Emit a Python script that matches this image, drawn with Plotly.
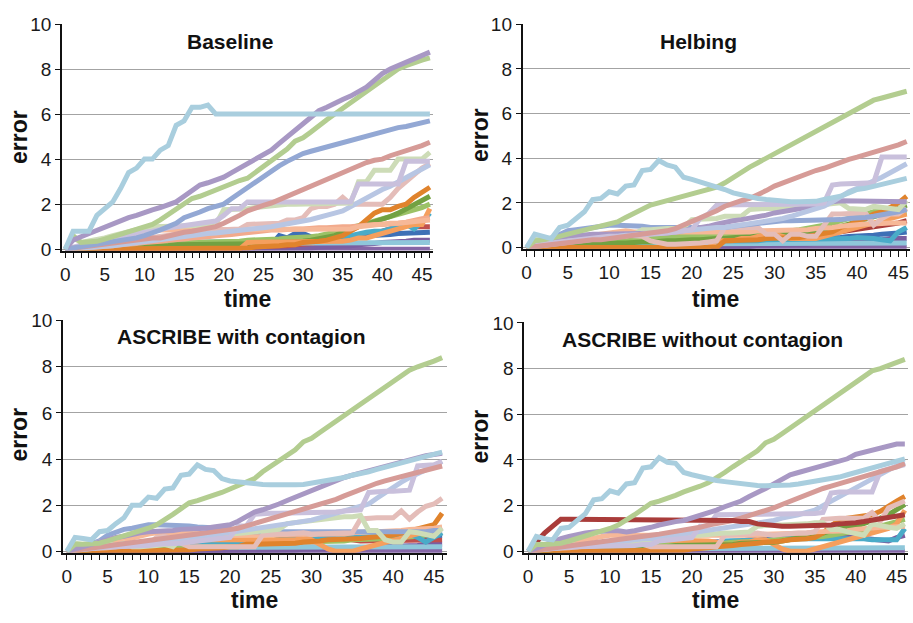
import plotly.graph_objects as go

W, H = 913, 623
t = list(range(47))

# ---------------- Baseline ----------------
b_ltblue = [0, 0.8, 0.8, 0.8, 1.5, 1.8, 2.1, 2.7, 3.4, 3.6,
            4.0, 4.0, 4.4, 4.6, 5.5, 5.7, 6.3, 6.3, 6.4, 6.0,
            6.0, 6.0, 6.0, 6.0, 6.0, 6.0, 6.0, 6.0, 6.0, 6.0,
            6.0, 6.0, 6.0, 6.0, 6.0, 6.0, 6.0, 6.0, 6.0, 6.0,
            6.0, 6.0, 6.0, 6.0, 6.0, 6.0, 6.0]
b_lav = [0, 0.4, 0.55, 0.7, 0.85, 1.0, 1.15, 1.25, 1.4, 1.5,
         1.65, 1.75, 1.85, 1.95, 2.1, 2.35, 2.6, 2.85, 2.95, 3.05,
         3.2, 3.4, 3.6, 3.8, 4.0, 4.15, 4.4, 4.7, 5.0, 5.3,
         5.6, 5.9, 6.15, 6.3, 6.5, 6.65, 6.8, 7.0, 7.2, 7.5,
         7.8, 8.0, 8.15, 8.3, 8.5, 8.65, 8.75]
b_green = [0, 0.6, 0.3, 0.3, 0.35, 0.45, 0.55, 0.65, 0.8, 0.9,
           1.0, 1.1, 1.3, 1.55, 1.8, 2.05, 2.25, 2.35, 2.5, 2.65,
           2.75, 2.9, 3.05, 3.15, 3.4, 3.7, 3.95, 4.2, 4.45, 4.8,
           4.95, 5.2, 5.5, 5.75, 6.0, 6.25, 6.5, 6.75, 7.0, 7.3,
           7.55, 7.8, 8.0, 8.15, 8.3, 8.4, 8.5]
b_blue = [0, 0.05, 0.1, 0.15, 0.2, 0.25, 0.3, 0.35, 0.45, 0.5,
          0.6, 0.7, 0.85, 1.0, 1.15, 1.4, 1.5, 1.65, 1.8, 1.9,
          2.0, 2.25, 2.5, 2.75, 3.0, 3.25, 3.5, 3.7, 3.9, 4.1,
          4.25, 4.35, 4.45, 4.55, 4.65, 4.75, 4.85, 4.95, 5.05, 5.15,
          5.2, 5.3, 5.4, 5.45, 5.55, 5.6, 5.7]
b_rose = [0, 0.05, 0.1, 0.15, 0.2, 0.25, 0.3, 0.35, 0.4, 0.4,
          0.45, 0.5, 0.5, 0.6, 0.65, 0.75, 0.8, 0.85, 0.9, 1.0,
          1.15, 1.3, 1.5, 1.7, 1.85, 1.95, 2.05, 2.2, 2.35, 2.5,
          2.7, 2.85, 3.0, 3.1, 3.3, 3.4, 3.55, 3.7, 3.85, 3.95,
          4.0, 4.15, 4.25, 4.4, 4.5, 4.6, 4.75]
b_ltlav = [0, 0.1, 0.2, 0.3, 0.35, 0.4, 0.5, 0.55, 0.6, 0.7,
           0.75, 0.8, 0.9, 0.95, 1.0, 1.05, 1.05, 1.1, 1.2, 1.25,
           1.5, 1.8, 1.8, 2.1, 2.1, 2.1, 2.1, 2.1, 2.1, 2.1,
           2.1, 2.1, 2.1, 2.1, 2.1, 2.1, 2.1, 2.9, 2.9, 2.9,
           2.9, 2.9, 2.9, 3.9, 3.9, 3.9, 3.9]
b_ltsage = [0, 0.5, 0.3, 0.35, 0.4, 0.5, 0.6, 0.7, 0.8, 0.85,
            0.95, 1.0, 1.0, 1.05, 1.05, 1.05, 1.05, 1.05, 1.1, 1.1,
            1.75, 1.75, 1.75, 1.8, 1.85, 1.9, 1.9, 2.0, 2.0, 2.0,
            2.0, 2.0, 2.0, 2.0, 2.05, 2.05, 2.05, 3.0, 3.0, 3.5,
            3.5, 3.5, 4.0, 4.0, 4.0, 4.0, 4.3]
b_ltperi = [0, 0.02, 0.05, 0.08, 0.1, 0.12, 0.15, 0.2, 0.25, 0.3,
            0.35, 0.4, 0.45, 0.5, 0.55, 0.6, 0.65, 0.68, 0.7, 0.72,
            0.75, 0.78, 0.82, 0.86, 0.9, 0.95, 1.0, 1.05, 1.1, 1.15,
            1.25, 1.32, 1.4, 1.5, 1.6, 1.7, 1.9, 2.1, 2.3, 2.5,
            2.65, 2.8, 3.0, 3.2, 3.4, 3.55, 3.75]
b_pink = [0, 0.05, 0.1, 0.15, 0.2, 0.25, 0.3, 0.35, 0.4, 0.45,
          0.5, 0.55, 0.6, 0.65, 0.7, 0.75, 0.8, 0.8, 0.85, 0.85,
          0.85, 0.9, 0.9, 1.1, 1.1, 1.1, 1.15, 1.15, 1.3, 1.3,
          1.4, 1.8, 1.9, 1.9, 2.0, 2.3, 2.0, 2.0, 2.0, 2.0,
          2.0, 2.3, 2.7, 3.0, 3.3, 3.6, 3.8]
b_peach = [0, 0.05, 0.1, 0.2, 0.3, 0.35, 0.4, 0.5, 0.6, 0.7,
           0.8, 0.85, 0.85, 0.85, 0.85, 0.85, 0.85, 0.85, 0.85, 0.85,
           0.85, 0.85, 0.85, 0.85, 0.85, 0.85, 0.85, 0.85, 0.85, 0.85,
           0.85, 0.85, 0.85, 0.85, 0.85, 0.85, 0.9, 1.0, 1.05, 1.1,
           1.1, 1.15, 1.15, 1.2, 1.25, 1.3, 1.3]
b_salmon = [0, 0, 0, 0.05, 0.1, 0.1, 0.15, 0.2, 0.2, 0.25,
            0.3, 0.3, 0.35, 0.4, 0.4, 0.45, 0.5, 0.5, 0.55, 0.6,
            0.6, 0.65, 0.7, 0.75, 0.8, 0.8, 0.85, 0.85, 0.9, 0.9,
            0.9, 0.95, 0.95, 0.95, 1.0, 1.0, 1.0, 1.05, 1.05, 1.1,
            1.1, 1.1, 1.15, 1.2, 1.3, 1.35, 1.4]
b_orange = [0, 0, 0, 0, 0, 0, 0, 0, 0, 0,
            0, 0, 0, 0, 0, 0, 0, 0, 0, 0,
            0, 0, 0, 0.05, 0.1, 0.1, 0.1, 0.15, 0.2, 0.2,
            0.3, 0.3, 0.35, 0.4, 0.5, 0.6, 0.8, 1.0, 1.3, 1.6,
            1.75, 1.75, 1.9, 2.0, 2.3, 2.5, 2.75]
b_ltorange = [0, 0, 0, 0, 0, 0, 0, 0, 0, 0,
              0, 0, 0, 0, 0, 0, 0, 0, 0, 0,
              0, 0, 0, 0.3, 0.3, 0.3, 0.3, 0.3, 0.3, 0.3,
              0.3, 0.3, 0.3, 0.3, 0.3, 0.35, 0.4, 0.5, 0.5, 0.6,
              0.7, 0.8, 0.9, 1.0, 1.1, 1.1, 1.8]
b_dkgreen = [0, 0, 0.05, 0.05, 0.05, 0.1, 0.1, 0.1, 0.1, 0.1,
             0.15, 0.15, 0.15, 0.15, 0.2, 0.2, 0.2, 0.2, 0.2, 0.2,
             0.2, 0.2, 0.25, 0.25, 0.25, 0.25, 0.3, 0.3, 0.3, 0.3,
             0.35, 0.4, 0.45, 0.5, 0.6, 0.75, 0.9, 1.0, 1.1, 1.2,
             1.3, 1.45, 1.6, 1.8, 2.0, 2.15, 2.35]
b_green2 = [0, 0, 0.05, 0.05, 0.1, 0.1, 0.1, 0.15, 0.15, 0.15,
            0.2, 0.2, 0.2, 0.25, 0.25, 0.25, 0.3, 0.3, 0.3, 0.3,
            0.35, 0.35, 0.35, 0.4, 0.4, 0.4, 0.45, 0.45, 0.5, 0.5,
            0.5, 0.55, 0.6, 0.65, 0.75, 0.85, 0.95, 1.05, 1.1, 1.2,
            1.3, 1.4, 1.5, 1.6, 1.75, 1.85, 2.0]
b_teal = [0, 0.05, 0.1, 0.1, 0.15, 0.15, 0.2, 0.2, 0.2, 0.25,
          0.25, 0.25, 0.3, 0.3, 0.3, 0.3, 0.3, 0.3, 0.3, 0.3,
          0.3, 0.3, 0.3, 0.35, 0.35, 0.35, 0.35, 0.4, 0.4, 0.4,
          0.45, 0.45, 0.45, 0.5, 0.5, 0.55, 0.6, 0.7, 0.75, 0.8,
          0.8, 0.9, 1.0, 1.1, 0.9, 1.2, 1.6]
b_sky = [0, 0.05, 0.1, 0.1, 0.15, 0.15, 0.15, 0.2, 0.2, 0.2,
         0.2, 0.25, 0.25, 0.25, 0.25, 0.25, 0.25, 0.25, 0.25, 0.25,
         0.25, 0.25, 0.3, 0.3, 0.3, 0.3, 0.3, 0.3, 0.3, 0.3,
         0.3, 0.3, 0.3, 0.3, 0.3, 0.3, 0.3, 0.3, 0.3, 0.3,
         0.3, 0.3, 0.3, 0.3, 0.3, 0.3, 0.3]
b_blue2 = [0, 0, 0, 0.05, 0.05, 0.05, 0.1, 0.1, 0.1, 0.1,
           0.1, 0.1, 0.1, 0.1, 0.1, 0.1, 0.1, 0.1, 0.1, 0.1,
           0.1, 0.1, 0.15, 0.15, 0.2, 0.2, 0.2, 0.6, 0.5, 0.7,
           0.7, 0.55, 0.5, 0.5, 0.5, 0.55, 0.55, 0.6, 0.6, 0.6,
           0.65, 0.65, 0.7, 0.7, 0.75, 0.75, 0.75]
b_red = [0, 0, 0, 0, 0.05, 0.05, 0.05, 0.05, 0.05, 0.05,
         0.05, 0.05, 0.05, 0.05, 0.05, 0.05, 0.05, 0.05, 0.05, 0.05,
         0.05, 0.05, 0.05, 0.1, 0.1, 0.1, 0.15, 0.15, 0.15, 0.2,
         0.2, 0.25, 0.3, 0.35, 0.4, 0.45, 0.5, 0.55, 0.6, 0.7,
         0.8, 0.9, 1.0, 1.1, 1.0, 1.0, 1.0]
b_purple = [0, 0, 0, 0, 0, 0, 0, 0, 0, 0,
            0, 0, 0, 0, 0, 0, 0, 0, 0, 0,
            0, 0, 0, 0, 0.05, 0.05, 0.05, 0.05, 0.05, 0.05,
            0.05, 0.05, 0.1, 0.1, 0.1, 0.1, 0.15, 0.2, 0.2, 0.25,
            0.3, 0.3, 0.35, 0.35, 0.4, 0.4, 0.4]
b_dkpurple = [0, 0, 0, 0, 0, 0, 0, 0, 0, 0,
              0, 0, 0, 0, 0, 0, 0, 0, 0, 0,
              0, 0, 0, 0, 0, 0, 0, 0, 0, 0,
              0, 0, 0, 0, 0, 0, 0, 0, 0, 0,
              0, 0, 0, 0, 0, 0, 0]

# ---------------- Helbing ----------------
h_ltblue = [0, 0.6, 0.5, 0.4, 0.9, 1.0, 1.3, 1.6, 2.15, 2.2,
            2.5, 2.4, 2.75, 2.8, 3.45, 3.5, 3.9, 3.7, 3.6, 3.15,
            3.05, 2.95, 2.8, 2.7, 2.6, 2.45, 2.35, 2.25, 2.2, 2.15,
            2.1, 2.07, 2.05, 2.05, 2.05, 2.07, 2.15, 2.2, 2.3, 2.45,
            2.6, 2.65, 2.75, 2.85, 2.95, 3.0, 3.1]
h_green = [0, 0.3, 0.35, 0.4, 0.5, 0.6, 0.7, 0.8, 0.9, 1.0,
           1.05, 1.15, 1.35, 1.55, 1.75, 1.9, 2.0, 2.1, 2.15, 2.25,
           2.35, 2.45, 2.55, 2.7, 2.9, 3.15, 3.35, 3.6, 3.8, 4.0,
           4.2, 4.4, 4.6, 4.8, 5.0, 5.2, 5.4, 5.6, 5.8, 6.0,
           6.2, 6.4, 6.6, 6.7, 6.8, 6.9, 7.0]
h_rose = [0, 0.05, 0.1, 0.15, 0.2, 0.25, 0.3, 0.3, 0.35, 0.35,
          0.4, 0.4, 0.45, 0.5, 0.55, 0.6, 0.65, 0.75, 0.85, 1.0,
          1.2, 1.35, 1.5, 1.65, 1.85, 2.0, 2.1, 2.2, 2.35, 2.55,
          2.75, 2.9, 3.0, 3.15, 3.3, 3.45, 3.55, 3.7, 3.85, 3.95,
          4.05, 4.15, 4.3, 4.4, 4.5, 4.6, 4.75]
h_ltlav = [0, 0.1, 0.15, 0.2, 0.25, 0.3, 0.35, 0.4, 0.4, 0.45,
           0.5, 0.5, 0.55, 0.55, 0.6, 0.6, 0.6, 0.65, 0.7, 0.75,
           0.8, 1.3, 1.5, 1.9, 1.9, 1.9, 1.9, 1.9, 1.9, 1.9,
           1.9, 1.9, 1.9, 1.9, 1.9, 1.95, 2.0, 2.8, 2.85, 2.85,
           2.85, 2.85, 2.9, 4.05, 4.05, 4.05, 4.05]
h_ltperi = [0, 0.05, 0.1, 0.15, 0.2, 0.25, 0.3, 0.35, 0.4, 0.45,
            0.5, 0.5, 0.55, 0.55, 0.6, 0.6, 0.65, 0.7, 0.75, 0.75,
            0.8, 0.85, 0.85, 0.9, 0.9, 0.95, 1.0, 1.05, 1.1, 1.15,
            1.2, 1.3, 1.4, 1.5, 1.6, 1.7, 1.85, 2.05, 2.3, 2.5,
            2.65, 2.8, 2.95, 3.15, 3.35, 3.55, 3.75]
h_lav = [0, 0.2, 0.3, 0.4, 0.45, 0.5, 0.55, 0.55, 0.6, 0.6,
         0.6, 0.6, 0.6, 0.6, 0.6, 0.6, 0.6, 0.65, 0.7, 0.75,
         0.8, 0.85, 0.95, 1.05, 1.15, 1.2, 1.25, 1.3, 1.4, 1.45,
         1.55, 1.6, 1.65, 1.75, 1.8, 1.9, 2.0, 2.05, 2.1, 2.1,
         2.1, 2.1, 2.1, 2.1, 2.1, 2.1, 2.05]
h_ltsage = [0, 0.4, 0.4, 0.35, 0.4, 0.45, 0.5, 0.55, 0.5, 0.5,
            0.55, 0.5, 0.5, 0.6, 0.8, 0.8, 0.85, 0.85, 0.85, 0.9,
            1.25, 1.25, 1.25, 1.3, 1.4, 1.4, 1.4, 1.7, 1.75, 1.75,
            1.75, 1.75, 1.8, 1.8, 1.85, 1.9, 1.95, 2.0, 2.0, 1.75,
            1.7, 1.7, 1.85, 1.8, 1.8, 1.7, 2.1]
h_blue = [0, 0.1, 0.2, 0.4, 0.6, 0.75, 0.8, 0.85, 0.9, 1.0,
          1.0, 1.0, 1.0, 1.0, 0.95, 0.9, 0.9, 0.9, 0.85, 0.85,
          0.85, 0.85, 0.85, 0.9, 0.9, 0.95, 1.0, 1.05, 1.1, 1.1,
          1.15, 1.2, 1.2, 1.2, 1.2, 1.2, 1.2, 1.25, 1.25, 1.3,
          1.3, 1.35, 1.4, 1.45, 1.5, 1.6, 1.7]
h_pink = [0, 0.1, 0.1, 0.15, 0.2, 0.3, 0.35, 0.4, 0.45, 0.5,
          0.5, 0.55, 0.55, 0.5, 0.5, 0.3, 0.2, 0.15, 0.15, 0.15,
          0.15, 0.2, 0.25, 0.3, 0.9, 0.9, 0.95, 0.95, 0.9, 0.6,
          0.6, 0.3, 0.6, 0.6, 0.5, 0.5, 1.0, 1.5, 1.5, 1.5,
          1.5, 1.55, 1.0, 1.3, 1.5, 1.5, 1.75]
h_peach = [0, 0.1, 0.2, 0.3, 0.35, 0.4, 0.45, 0.5, 0.55, 0.6,
           0.7, 0.75, 0.75, 0.7, 0.7, 0.65, 0.65, 0.65, 0.65, 0.65,
           0.65, 0.65, 0.65, 0.7, 0.7, 0.7, 0.7, 0.7, 0.75, 0.75,
           0.75, 0.75, 0.75, 0.8, 0.8, 0.85, 0.85, 0.9, 0.95, 1.0,
           1.0, 1.05, 1.05, 1.1, 1.1, 1.1, 1.1]
h_orange = [0, 0, 0, 0, 0, 0, 0, 0, 0, 0,
            0, 0, 0, 0, 0, 0, 0, 0, 0, 0,
            0, 0, 0, 0, 0.3, 0.3, 0.3, 0.35, 0.35, 0.4,
            0.4, 0.4, 0.45, 0.45, 0.5, 0.55, 0.6, 0.7, 0.9, 1.0,
            1.2, 1.3, 1.5, 1.6, 1.8, 2.0, 2.3]
h_ltorange = [0, 0, 0, 0, 0, 0, 0, 0, 0, 0,
              0, 0, 0, 0, 0, 0, 0, 0, 0, 0,
              0, 0, 0, 0.3, 0.3, 0.3, 0.4, 0.4, 0.5, 0.6,
              0.6, 0.5, 0.4, 0.4, 0.4, 0.4, 0.5, 0.6, 0.7, 0.8,
              0.9, 1.0, 1.1, 1.2, 1.3, 1.4, 1.5]
h_dkgreen = [0, 0.02, 0.05, 0.05, 0.1, 0.1, 0.1, 0.15, 0.15, 0.15,
             0.2, 0.2, 0.2, 0.25, 0.25, 0.25, 0.3, 0.3, 0.3, 0.35,
             0.35, 0.35, 0.4, 0.4, 0.4, 0.45, 0.45, 0.5, 0.5, 0.55,
             0.55, 0.6, 0.6, 0.65, 0.7, 0.75, 0.8, 0.85, 0.95, 1.05,
             1.15, 1.25, 1.4, 1.5, 1.6, 1.75, 1.9]
h_green2 = [0, 0.05, 0.1, 0.1, 0.15, 0.15, 0.2, 0.2, 0.25, 0.25,
            0.3, 0.3, 0.3, 0.35, 0.35, 0.4, 0.4, 0.45, 0.45, 0.5,
            0.5, 0.5, 0.55, 0.55, 0.55, 0.6, 0.6, 0.65, 0.65, 0.7,
            0.7, 0.75, 0.75, 0.8, 0.85, 0.9, 1.0, 1.1, 1.2, 1.3,
            1.4, 1.5, 1.6, 1.6, 1.55, 1.5, 1.55]
h_teal = [0, 0.05, 0.1, 0.1, 0.15, 0.15, 0.2, 0.2, 0.25, 0.25,
          0.25, 0.3, 0.3, 0.3, 0.3, 0.3, 0.3, 0.3, 0.3, 0.3,
          0.3, 0.3, 0.3, 0.3, 0.3, 0.3, 0.3, 0.3, 0.3, 0.35,
          0.35, 0.35, 0.35, 0.4, 0.4, 0.4, 0.4, 0.4, 0.4, 0.4,
          0.45, 0.45, 0.4, 0.35, 0.3, 0.7, 0.9]
h_sky = [0, 0.05, 0.1, 0.1, 0.1, 0.15, 0.15, 0.15, 0.15, 0.2,
         0.2, 0.2, 0.2, 0.2, 0.2, 0.2, 0.2, 0.2, 0.2, 0.2,
         0.2, 0.2, 0.2, 0.2, 0.2, 0.2, 0.2, 0.2, 0.2, 0.2,
         0.2, 0.2, 0.2, 0.2, 0.2, 0.2, 0.2, 0.2, 0.2, 0.2,
         0.2, 0.2, 0.2, 0.2, 0.2, 0.2, 0.2]
h_blue2 = [0, 0, 0.05, 0.05, 0.05, 0.1, 0.1, 0.1, 0.1, 0.1,
           0.1, 0.15, 0.15, 0.15, 0.15, 0.2, 0.2, 0.2, 0.2, 0.2,
           0.2, 0.2, 0.25, 0.25, 0.25, 0.25, 0.25, 0.3, 0.3, 0.3,
           0.3, 0.3, 0.35, 0.35, 0.35, 0.4, 0.4, 0.45, 0.45, 0.5,
           0.5, 0.5, 0.55, 0.6, 0.6, 0.65, 0.7]
h_red = [0, 0, 0.05, 0.05, 0.1, 0.1, 0.15, 0.15, 0.2, 0.2,
         0.25, 0.25, 0.3, 0.3, 0.35, 0.35, 0.4, 0.4, 0.45, 0.5,
         0.5, 0.5, 0.45, 0.45, 0.45, 0.45, 0.45, 0.5, 0.5, 0.5,
         0.5, 0.5, 0.55, 0.55, 0.55, 0.6, 0.6, 0.65, 0.7, 0.75,
         0.8, 0.85, 0.9, 0.95, 1.0, 1.1, 1.2]
h_purple = [0, 0, 0, 0, 0, 0, 0, 0, 0, 0,
            0, 0, 0, 0, 0, 0, 0, 0, 0, 0,
            0, 0, 0, 0, 0.05, 0.05, 0.05, 0.05, 0.1, 0.1,
            0.1, 0.1, 0.15, 0.15, 0.15, 0.2, 0.2, 0.2, 0.25, 0.25,
            0.3, 0.3, 0.35, 0.35, 0.4, 0.4, 0.4]
h_dkpurple = [0, 0, 0, 0, 0, 0, 0, 0, 0, 0,
              0, 0, 0, 0, 0, 0, 0, 0, 0, 0,
              0, 0, 0, 0, 0, 0, 0, 0, 0, 0,
              0, 0, 0, 0, 0, 0, 0, 0, 0, 0,
              0, 0, 0, 0, 0, 0, 0]

# ---------------- ASCRIBE with contagion ----------------
c_green = [0, 0.3, 0.3, 0.3, 0.35, 0.45, 0.55, 0.65, 0.75, 0.85,
           1.0, 1.15, 1.35, 1.6, 1.85, 2.1, 2.2, 2.3, 2.45, 2.55,
           2.7, 2.85, 3.0, 3.15, 3.45, 3.7, 3.95, 4.15, 4.4, 4.75,
           4.9, 5.15, 5.4, 5.65, 5.9, 6.15, 6.4, 6.65, 6.9, 7.15,
           7.4, 7.65, 7.85, 8.0, 8.1, 8.25, 8.4]
c_ltblue = [0, 0.6, 0.55, 0.5, 0.85, 0.9, 1.2, 1.45, 2.0, 2.0,
            2.35, 2.3, 2.7, 2.75, 3.3, 3.35, 3.75, 3.55, 3.5, 3.15,
            3.05, 3.0, 2.95, 2.9, 2.9, 2.88, 2.87, 2.87, 2.88, 2.9,
            2.95, 3.0, 3.05, 3.1, 3.2, 3.3, 3.35, 3.45, 3.55, 3.65,
            3.75, 3.85, 3.95, 4.05, 4.15, 4.2, 4.3]
c_lav = [0, 0.1, 0.2, 0.3, 0.4, 0.55, 0.6, 0.65, 0.75, 0.8,
         0.85, 0.85, 0.9, 0.9, 0.95, 0.95, 1.0, 1.0, 1.05, 1.1,
         1.15, 1.3, 1.5, 1.7, 1.8, 1.9, 2.05, 2.2, 2.35, 2.5,
         2.65, 2.8, 2.95, 3.05, 3.2, 3.3, 3.4, 3.5, 3.6, 3.7,
         3.8, 3.9, 4.0, 4.05, 4.15, 4.2, 4.25]
c_rose = [0, 0.05, 0.1, 0.15, 0.2, 0.25, 0.3, 0.35, 0.4, 0.45,
          0.5, 0.55, 0.55, 0.6, 0.65, 0.7, 0.75, 0.8, 0.85, 0.9,
          0.9, 1.0, 1.1, 1.2, 1.3, 1.4, 1.5, 1.6, 1.7, 1.8,
          1.9, 2.0, 2.1, 2.25, 2.4, 2.55, 2.7, 2.8, 2.95, 3.05,
          3.15, 3.25, 3.35, 3.45, 3.5, 3.6, 3.7]
c_ltlav = [0, 0.1, 0.15, 0.15, 0.2, 0.2, 0.2, 0.2, 0.2, 0.2,
           0.25, 0.3, 0.3, 0.3, 0.35, 0.4, 0.45, 0.5, 0.55, 0.6,
           0.6, 1.1, 1.1, 1.6, 1.65, 1.65, 1.65, 1.65, 1.65, 1.65,
           1.65, 1.7, 1.7, 1.7, 1.75, 1.75, 1.8, 2.55, 2.6, 2.6,
           2.6, 2.65, 2.65, 3.7, 3.7, 3.75, 3.9]
c_ltperi = [0, 0.05, 0.1, 0.1, 0.15, 0.2, 0.2, 0.25, 0.3, 0.3,
            0.35, 0.4, 0.45, 0.5, 0.55, 0.55, 0.6, 0.65, 0.7, 0.75,
            0.8, 0.85, 0.9, 0.95, 1.0, 1.05, 1.1, 1.2, 1.25, 1.3,
            1.35, 1.45, 1.55, 1.6, 1.7, 1.8, 1.9, 2.05, 2.3, 2.55,
            2.8, 3.0, 3.2, 3.35, 3.5, 3.7, 3.9]
c_blue = [0, 0.1, 0.2, 0.3, 0.45, 0.7, 0.85, 0.95, 1.0, 1.1,
          1.15, 1.15, 1.15, 1.15, 1.1, 1.1, 1.05, 1.05, 1.0, 1.0,
          0.95, 0.9, 0.9, 0.85, 0.85, 0.85, 0.85, 0.85, 0.8, 0.8,
          0.8, 0.8, 0.8, 0.8, 0.8, 0.8, 0.8, 0.8, 0.8, 0.8,
          0.85, 0.85, 0.85, 0.85, 0.85, 0.9, 0.9]
c_pink = [0, 0.1, 0.1, 0.1, 0.15, 0.15, 0.2, 0.2, 0.25, 0.25,
          0.3, 0.6, 0.65, 0.5, 0.3, 0.2, 0.2, 0.2, 0.15, 0.15,
          0.15, 0.15, 0.2, 0.2, 0.7, 0.75, 0.75, 0.75, 0.8, 0.8,
          0.75, 0.75, 0.8, 0.8, 0.75, 0.8, 1.4, 1.45, 1.45, 1.45,
          1.45, 1.75, 1.4, 1.7, 1.95, 2.05, 2.3]
c_ltsage = [0, 0.35, 0.3, 0.3, 0.4, 0.3, 0.25, 0.35, 0.2, 0.2,
            0.2, 0.25, 0.3, 0.2, 0.55, 0.6, 0.65, 0.7, 0.75, 0.85,
            0.75, 0.75, 0.8, 0.85, 0.9, 0.95, 0.95, 1.2, 1.25, 1.3,
            1.3, 1.35, 1.4, 1.45, 1.5, 1.5, 1.55, 0.9, 0.9, 0.5,
            0.4, 0.4, 0.85, 0.8, 0.75, 0.65, 1.0]
c_peach = [0, 0.05, 0.1, 0.15, 0.2, 0.3, 0.4, 0.5, 0.6, 0.65,
           0.75, 0.8, 0.8, 0.75, 0.75, 0.75, 0.75, 0.75, 0.75, 0.7,
           0.7, 0.7, 0.7, 0.7, 0.7, 0.7, 0.7, 0.7, 0.7, 0.7,
           0.7, 0.75, 0.75, 0.75, 0.75, 0.8, 0.85, 0.85, 0.85, 0.85,
           0.85, 0.9, 0.95, 0.95, 1.0, 1.0, 1.05]
c_orange = [0, 0, 0, 0, 0, 0, 0, 0, 0, 0,
            0, 0, 0, 0, 0, 0.05, 0.1, 0.1, 0.15, 0.15,
            0.2, 0.2, 0.3, 0.3, 0.3, 0.3, 0.3, 0.35, 0.35, 0.4,
            0.4, 0.45, 0.5, 0.5, 0.5, 0.5, 0.55, 0.6, 0.6, 0.65,
            0.7, 0.8, 0.9, 1.0, 1.1, 1.15, 1.65]
c_ltorange = [0, 0, 0.05, 0.1, 0.1, 0.15, 0.2, 0.2, 0.25, 0.3,
              0.3, 0.35, 0.35, 0.4, 0.4, 0.45, 0.45, 0.5, 0.5, 0.5,
              0.5, 0.5, 0.5, 0.5, 0.5, 0.45, 0.45, 0.5, 0.5, 0.55,
              0.5, 0.3, 0.1, 0.0, 0.0, 0.0, 0.1, 0.2, 0.3, 0.4,
              0.5, 0.6, 0.7, 0.8, 0.85, 0.9, 1.0]
c_teal = [0, 0.05, 0.1, 0.15, 0.15, 0.2, 0.2, 0.25, 0.25, 0.3,
          0.3, 0.3, 0.3, 0.35, 0.35, 0.35, 0.4, 0.4, 0.4, 0.4,
          0.4, 0.4, 0.4, 0.45, 0.45, 0.45, 0.5, 0.5, 0.5, 0.5,
          0.5, 0.55, 0.55, 0.55, 0.6, 0.6, 0.6, 0.65, 0.65, 0.65,
          0.7, 0.7, 0.75, 0.6, 0.4, 0.6, 0.8]
c_dkgreen = [0, 0.02, 0.05, 0.05, 0.1, 0.1, 0.1, 0.15, 0.15, 0.15,
             0.15, 0.2, 0.2, 0.2, 0.2, 0.25, 0.25, 0.25, 0.25, 0.3,
             0.3, 0.3, 0.3, 0.3, 0.35, 0.35, 0.35, 0.35, 0.4, 0.4,
             0.4, 0.4, 0.45, 0.45, 0.45, 0.5, 0.5, 0.5, 0.55, 0.55,
             0.55, 0.6, 0.6, 0.65, 0.7, 0.75, 0.8]
c_sky = [0, 0.05, 0.1, 0.1, 0.1, 0.15, 0.15, 0.15, 0.15, 0.2,
         0.2, 0.2, 0.2, 0.2, 0.2, 0.2, 0.2, 0.2, 0.2, 0.2,
         0.2, 0.2, 0.2, 0.2, 0.2, 0.2, 0.2, 0.2, 0.2, 0.2,
         0.2, 0.2, 0.2, 0.2, 0.2, 0.2, 0.2, 0.2, 0.2, 0.2,
         0.2, 0.2, 0.2, 0.2, 0.2, 0.2, 0.2]
c_blue2 = [0, 0, 0.05, 0.05, 0.1, 0.1, 0.1, 0.15, 0.15, 0.15,
           0.2, 0.2, 0.2, 0.25, 0.25, 0.25, 0.3, 0.3, 0.3, 0.3,
           0.35, 0.35, 0.35, 0.4, 0.4, 0.45, 0.5, 0.55, 0.6, 0.7,
           0.8, 0.7, 0.6, 0.55, 0.55, 0.55, 0.6, 0.6, 0.6, 0.6,
           0.65, 0.65, 0.65, 0.65, 0.7, 0.7, 0.7]
c_red = [0, 0, 0.05, 0.05, 0.05, 0.1, 0.1, 0.1, 0.1, 0.15,
         0.15, 0.15, 0.15, 0.2, 0.2, 0.2, 0.2, 0.25, 0.25, 0.25,
         0.25, 0.3, 0.3, 0.3, 0.3, 0.35, 0.35, 0.35, 0.35, 0.4,
         0.4, 0.4, 0.5, 0.8, 0.75, 0.5, 0.45, 0.45, 0.45, 0.45,
         0.45, 0.45, 0.5, 0.5, 0.5, 0.5, 0.5]
c_purple = [0, 0, 0, 0, 0, 0, 0, 0, 0, 0,
            0, 0, 0, 0, 0, 0, 0, 0, 0, 0,
            0, 0, 0, 0, 0.05, 0.05, 0.05, 0.05, 0.05, 0.1,
            0.1, 0.1, 0.1, 0.1, 0.15, 0.15, 0.15, 0.15, 0.2, 0.2,
            0.2, 0.25, 0.25, 0.25, 0.3, 0.3, 0.3]
c_dkpurple = [0, 0, 0, 0, 0, 0, 0, 0, 0, 0,
              0, 0, 0, 0, 0, 0, 0, 0, 0, 0,
              0, 0, 0, 0, 0, 0, 0, 0, 0, 0,
              0, 0, 0, 0, 0, 0, 0, 0, 0, 0,
              0, 0, 0, 0, 0, 0, 0]

# ---------------- ASCRIBE without contagion ----------------
w_red = [0, 0.4, 0.8, 1.1, 1.4, 1.4, 1.4, 1.4, 1.4, 1.4,
         1.4, 1.4, 1.4, 1.4, 1.4, 1.4, 1.4, 1.4, 1.4, 1.4,
         1.4, 1.4, 1.4, 1.4, 1.35, 1.35, 1.3, 1.3, 1.2, 1.15,
         1.15, 1.1, 1.1, 1.1, 1.1, 1.1, 1.1, 1.15, 1.2, 1.2,
         1.25, 1.3, 1.35, 1.4, 1.45, 1.5, 1.6]
w_green = [0, 0.3, 0.3, 0.3, 0.35, 0.45, 0.55, 0.65, 0.75, 0.85,
           1.0, 1.15, 1.35, 1.6, 1.85, 2.1, 2.2, 2.3, 2.45, 2.6,
           2.7, 2.85, 3.0, 3.2, 3.45, 3.7, 3.95, 4.15, 4.4, 4.75,
           4.9, 5.15, 5.4, 5.65, 5.9, 6.15, 6.4, 6.65, 6.9, 7.15,
           7.4, 7.65, 7.9, 8.0, 8.15, 8.25, 8.4]
w_lav = [0, 0.15, 0.3, 0.4, 0.55, 0.65, 0.75, 0.8, 0.85, 0.9,
         0.9, 0.9, 0.85, 0.9, 0.95, 1.05, 1.15, 1.25, 1.3, 1.35,
         1.45, 1.55, 1.7, 1.8, 1.95, 2.05, 2.2, 2.4, 2.55, 2.75,
         2.95, 3.15, 3.35, 3.45, 3.55, 3.65, 3.7, 3.85, 3.95, 4.05,
         4.25, 4.35, 4.45, 4.5, 4.65, 4.7, 4.7]
w_ltblue = [0, 0.65, 0.55, 0.5, 1.0, 1.05, 1.35, 1.65, 2.25, 2.3,
            2.65, 2.55, 2.95, 3.0, 3.65, 3.7, 4.1, 3.9, 3.85, 3.45,
            3.35, 3.25, 3.15, 3.1, 3.05, 3.0, 2.95, 2.9, 2.88, 2.87,
            2.87, 2.87, 2.9, 2.95, 3.0, 3.05, 3.1, 3.17, 3.25, 3.35,
            3.45, 3.55, 3.65, 3.75, 3.85, 3.95, 4.05]
w_rose = [0, 0.05, 0.1, 0.15, 0.2, 0.25, 0.3, 0.35, 0.4, 0.45,
          0.5, 0.55, 0.6, 0.6, 0.65, 0.7, 0.75, 0.8, 0.85, 0.9,
          0.95, 1.05, 1.15, 1.2, 1.3, 1.35, 1.45, 1.55, 1.65, 1.8,
          1.9, 2.05, 2.2, 2.3, 2.45, 2.6, 2.75, 2.85, 2.95, 3.05,
          3.15, 3.25, 3.35, 3.5, 3.6, 3.7, 3.85]
w_ltlav = [0, 0.1, 0.15, 0.15, 0.2, 0.2, 0.2, 0.2, 0.2, 0.2,
           0.2, 0.25, 0.25, 0.25, 0.3, 0.3, 0.45, 0.5, 0.55, 0.6,
           0.6, 1.1, 1.1, 1.6, 1.6, 1.6, 1.6, 1.6, 1.6, 1.6,
           1.6, 1.6, 1.6, 1.65, 1.65, 1.65, 1.7, 2.55, 2.6, 2.6,
           2.6, 2.6, 2.6, 3.5, 3.6, 3.7, 3.8]
w_ltperi = [0, 0.05, 0.1, 0.1, 0.15, 0.2, 0.2, 0.25, 0.3, 0.3,
            0.35, 0.4, 0.45, 0.5, 0.55, 0.55, 0.6, 0.65, 0.7, 0.75,
            0.8, 0.85, 0.9, 0.95, 1.0, 1.05, 1.1, 1.15, 1.2, 1.3,
            1.35, 1.45, 1.5, 1.6, 1.7, 1.8, 2.0, 2.2, 2.4, 2.6,
            2.8, 3.0, 3.2, 3.4, 3.6, 3.75, 3.9]
w_pink = [0, 0.1, 0.1, 0.1, 0.15, 0.15, 0.2, 0.2, 0.25, 0.25,
          0.3, 0.45, 0.5, 0.4, 0.3, 0.2, 0.2, 0.2, 0.2, 0.2,
          0.2, 0.2, 0.2, 0.2, 0.7, 0.75, 0.75, 0.75, 0.8, 0.75,
          0.7, 0.75, 0.8, 0.8, 0.8, 0.85, 1.4, 1.45, 1.45, 1.45,
          1.45, 1.45, 1.7, 1.3, 1.9, 2.05, 2.2]
w_ltsage = [0, 0.35, 0.3, 0.3, 0.35, 0.3, 0.25, 0.3, 0.25, 0.25,
            0.25, 0.3, 0.35, 0.3, 0.45, 0.5, 0.55, 0.6, 0.65, 0.7,
            0.7, 0.7, 0.75, 0.75, 0.8, 0.8, 0.85, 0.85, 1.1, 1.15,
            1.15, 1.15, 1.15, 1.2, 1.2, 1.25, 1.25, 0.95, 0.95, 0.85,
            0.8, 0.7, 1.2, 1.1, 1.05, 1.0, 1.2]
w_peach = [0, 0.05, 0.1, 0.15, 0.2, 0.3, 0.4, 0.5, 0.6, 0.65,
           0.7, 0.7, 0.7, 0.7, 0.7, 0.7, 0.7, 0.7, 0.7, 0.7,
           0.65, 0.65, 0.65, 0.65, 0.65, 0.7, 0.7, 0.7, 0.7, 0.75,
           0.75, 0.75, 0.75, 0.8, 0.8, 0.85, 0.85, 0.9, 0.9, 0.9,
           0.95, 1.0, 1.0, 1.05, 1.05, 1.1, 1.1]
w_orange = [0, 0, 0, 0, 0, 0, 0, 0, 0, 0,
            0, 0, 0, 0, 0, 0, 0, 0, 0, 0.05,
            0.1, 0.1, 0.15, 0.2, 0.2, 0.25, 0.3, 0.3, 0.35, 0.4,
            0.4, 0.45, 0.5, 0.5, 0.55, 0.6, 0.8, 1.1, 1.4, 1.45,
            1.5, 1.5, 1.6, 1.75, 2.0, 2.2, 2.4]
w_dkgreen = [0, 0.02, 0.05, 0.05, 0.05, 0.1, 0.1, 0.1, 0.1, 0.15,
             0.15, 0.15, 0.15, 0.2, 0.2, 0.2, 0.2, 0.2, 0.25, 0.25,
             0.25, 0.25, 0.3, 0.3, 0.3, 0.3, 0.35, 0.35, 0.35, 0.4,
             0.4, 0.45, 0.5, 0.55, 0.6, 0.7, 0.8, 0.9, 1.0, 1.1,
             1.1, 1.2, 1.3, 1.45, 1.6, 1.8, 2.05]
w_ltorange = [0, 0, 0.05, 0.1, 0.1, 0.15, 0.2, 0.25, 0.3, 0.35,
              0.4, 0.45, 0.5, 0.5, 0.5, 0.5, 0.5, 0.5, 0.5, 0.5,
              0.5, 0.5, 0.45, 0.4, 0.3, 0.3, 0.4, 0.4, 0.5, 0.5,
              0.3, 0.1, 0.0, 0.0, 0.0, 0.1, 0.2, 0.3, 0.4, 0.5,
              0.6, 0.7, 0.8, 0.9, 1.0, 1.2, 1.8]
w_green2 = [0, 0.05, 0.05, 0.1, 0.1, 0.1, 0.15, 0.15, 0.15, 0.2,
            0.2, 0.2, 0.2, 0.25, 0.25, 0.25, 0.25, 0.3, 0.3, 0.3,
            0.3, 0.3, 0.35, 0.35, 0.35, 0.4, 0.4, 0.4, 0.45, 0.45,
            0.5, 0.5, 0.55, 0.55, 0.6, 0.6, 0.65, 0.7, 0.75, 0.8,
            0.85, 0.9, 1.0, 1.1, 1.2, 1.3, 1.4]
w_teal = [0, 0.05, 0.1, 0.1, 0.15, 0.15, 0.2, 0.2, 0.25, 0.25,
          0.25, 0.3, 0.3, 0.3, 0.3, 0.35, 0.35, 0.35, 0.35, 0.4,
          0.4, 0.4, 0.4, 0.4, 0.45, 0.45, 0.45, 0.5, 0.5, 0.5,
          0.5, 0.55, 0.55, 0.55, 0.6, 0.6, 0.6, 0.6, 0.6, 0.6,
          0.55, 0.55, 0.5, 0.5, 0.45, 0.5, 1.0]
w_sky = [0, 0.05, 0.1, 0.1, 0.1, 0.1, 0.15, 0.15, 0.15, 0.15,
         0.15, 0.15, 0.15, 0.15, 0.15, 0.15, 0.15, 0.15, 0.15, 0.15,
         0.15, 0.15, 0.15, 0.15, 0.15, 0.15, 0.15, 0.15, 0.15, 0.15,
         0.15, 0.15, 0.15, 0.15, 0.15, 0.15, 0.15, 0.15, 0.15, 0.15,
         0.15, 0.15, 0.15, 0.15, 0.15, 0.15, 0.15]
w_purple = [0, 0, 0.05, 0.05, 0.1, 0.1, 0.1, 0.15, 0.15, 0.15,
            0.2, 0.2, 0.2, 0.25, 0.25, 0.25, 0.3, 0.3, 0.3, 0.35,
            0.35, 0.35, 0.4, 0.4, 0.4, 0.45, 0.45, 0.5, 0.5, 0.5,
            0.55, 0.55, 0.6, 0.6, 0.65, 0.7, 0.7, 0.7, 0.7, 0.65,
            0.6, 0.55, 0.5, 0.45, 0.45, 0.6, 0.7]
w_dkpurple = [0, 0, 0, 0, 0, 0, 0, 0, 0, 0,
              0, 0, 0, 0, 0, 0, 0, 0, 0, 0,
              0, 0, 0, 0, 0, 0, 0, 0, 0, 0,
              0, 0, 0, 0, 0, 0, 0, 0, 0, 0,
              0, 0, 0, 0, 0, 0, 0]

# ---------------- colours ----------------
C = dict(
    ltblue="#a9cede", lav="#a898c4", green="#b3cd90", blue="#93a8d4",
    rose="#d69b97", ltlav="#c9c0dc", ltsage="#cddcb7", ltperi="#b8c6e3",
    pink="#e4bdb9", peach="#f6b898", salmon="#f2aa8c", orange="#e0832c",
    ltorange="#f59f5d", dkgreen="#72a142", green2="#9bc267", teal="#4aabc8",
    sky="#8fc7da", blue2="#3e70b6", red="#c0504d", dkred="#a93c3a",
    purple="#7b5ea1", dkpurple="#8566a6",
)

panels = [
    dict(title="Baseline", tpos=(229, 32), tx=(246, 298), ey=(17, 131),
         dom_px=(60, 432, 14, 246.7), x0=63.3, xr_hi=46.4,
         series=[(b_dkpurple, "dkpurple"), (b_purple, "purple"), (b_red, "red"),
                 (b_blue2, "blue2"), (b_sky, "sky"), (b_teal, "teal"),
                 (b_green2, "green2"), (b_dkgreen, "dkgreen"), (b_ltorange, "ltorange"),
                 (b_orange, "orange"), (b_salmon, "salmon"), (b_peach, "peach"),
                 (b_pink, "pink"), (b_ltperi, "ltperi"), (b_ltsage, "ltsage"),
                 (b_ltlav, "ltlav"), (b_rose, "rose"), (b_blue, "blue"),
                 (b_green, "green"), (b_lav, "lav"), (b_ltblue, "ltblue")]),
    dict(title="Helbing", tpos=(698, 33), tx=(715, 298), ey=(479, 129),
         dom_px=(521.7, 910, 14.3, 245), x0=525.7, xr_hi=46.4,
         series=[(h_dkpurple, "dkpurple"), (h_purple, "purple"), (h_red, "dkred"),
                 (h_blue2, "blue2"), (h_sky, "sky"), (h_teal, "teal"),
                 (h_green2, "green2"), (h_dkgreen, "dkgreen"), (h_ltorange, "ltorange"),
                 (h_orange, "orange"), (h_peach, "peach"), (h_pink, "pink"),
                 (h_blue, "blue"), (h_ltsage, "ltsage"), (h_lav, "lav"),
                 (h_ltperi, "ltperi"), (h_ltlav, "ltlav"), (h_rose, "rose"),
                 (h_green, "green"), (h_ltblue, "ltblue")]),
    dict(title="ASCRIBE with contagion", tpos=(240, 337), tx=(253, 609), ey=(17, 438),
         dom_px=(61, 446, 320, 558.3), x0=65, xr_hi=46.6,
         series=[(c_dkpurple, "dkpurple"), (c_purple, "purple"), (c_red, "red"),
                 (c_blue2, "blue2"), (c_sky, "sky"), (c_dkgreen, "green2"),
                 (c_teal, "teal"), (c_ltorange, "ltorange"), (c_orange, "orange"),
                 (c_peach, "peach"), (c_blue, "blue"), (c_pink, "pink"),
                 (c_ltsage, "ltsage"), (c_ltperi, "ltperi"), (c_ltlav, "ltlav"),
                 (c_rose, "rose"), (c_lav, "lav"), (c_green, "green"),
                 (c_ltblue, "ltblue")]),
    dict(title="ASCRIBE without contagion", tpos=(702, 340), tx=(715, 609), ey=(479, 440),
         dom_px=(523.3, 907.7, 322.3, 558.3), x0=527.3, xr_hi=46.35,
         series=[(w_dkpurple, "dkpurple"), (w_purple, "purple"), (w_sky, "sky"),
                 (w_teal, "teal"), (w_green2, "green2"), (w_ltorange, "ltorange"),
                 (w_dkgreen, "dkgreen"), (w_orange, "orange"), (w_peach, "peach"),
                 (w_pink, "pink"), (w_ltsage, "ltsage"), (w_ltperi, "ltperi"),
                 (w_ltlav, "ltlav"), (w_rose, "rose"), (w_red, "dkred"),
                 (w_lav, "lav"), (w_green, "green"), (w_ltblue, "ltblue")]),
]

fig = go.Figure()
FONT = "Liberation Sans, Arial, sans-serif"
YLO = -0.06
annotations = []

for i, p in enumerate(panels):
    k = "" if i == 0 else str(i + 1)
    xl, xr_px, ytop, ybot = p["dom_px"]
    span_units = (xr_px - p["x0"]) / p["xr_hi"]
    x_lo = -(p["x0"] - xl) / span_units
    unit_y = (ybot - ytop) / 10.0
    ybot_ext = ybot + (-YLO) * unit_y
    for data, cname in p["series"]:
        fig.add_trace(go.Scatter(
            x=t, y=data, mode="lines", xaxis="x" + k, yaxis="y" + k,
            line=dict(color=C[cname], width=5), showlegend=False,
            hoverinfo="skip"))
    fig.layout["xaxis" + k] = dict(
        domain=[xl / W, xr_px / W], range=[x_lo, p["xr_hi"]], anchor="y" + k,
        tickvals=[0, 5, 10, 15, 20, 25, 30, 35, 40, 45],
        ticks="outside", ticklen=6, tickcolor="#111", tickwidth=1.2,
        minor=dict(dtick=1, tick0=0, ticks="outside", ticklen=6,
                   tickcolor="#111", tickwidth=1.2, showgrid=False),
        showline=True, linecolor="#111", linewidth=1.5,
        showgrid=False, zeroline=False,
        tickfont=dict(family=FONT, size=19, color="#1a1a1a"))
    fig.layout["yaxis" + k] = dict(
        domain=[1 - ybot_ext / H, 1 - ytop / H], range=[YLO, 10.02], anchor="x" + k,
        tickvals=[0, 2, 4, 6, 8, 10],
        ticks="outside", ticklen=5, tickcolor="#111", tickwidth=1.2,
        showline=True, linecolor="#111", linewidth=1.5,
        showgrid=True, gridcolor="#a3a3a3", gridwidth=1.2, zeroline=False,
        tickfont=dict(family=FONT, size=19, color="#1a1a1a"))
    annotations.append(dict(text="<b>" + p["title"] + "</b>", x=p["tpos"][0] / W,
                            y=1 - p["tpos"][1] / H, xref="paper", yref="paper",
                            showarrow=False, xanchor="center", yanchor="middle",
                            font=dict(family=FONT, size=21, color="#111")))
    annotations.append(dict(text="<b>time</b>", x=p["tx"][0] / W, y=1 - p["tx"][1] / H,
                            xref="paper", yref="paper", showarrow=False,
                            xanchor="center", yanchor="middle",
                            font=dict(family=FONT, size=23, color="#111")))
    annotations.append(dict(text="<b>error</b>", x=p["ey"][0] / W, y=1 - p["ey"][1] / H,
                            xref="paper", yref="paper", showarrow=False, textangle=-90,
                            xanchor="center", yanchor="middle",
                            font=dict(family=FONT, size=23, color="#111")))

fig.update_layout(width=W, height=H, margin=dict(l=0, r=0, t=0, b=0),
                  paper_bgcolor="white", plot_bgcolor="white",
                  annotations=annotations)
fig.write_html("out.html")
